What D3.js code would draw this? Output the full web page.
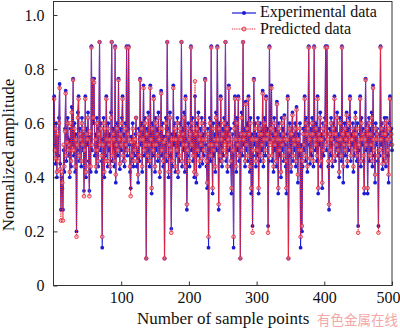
<!DOCTYPE html>
<html><head><meta charset="utf-8">
<script src="https://cdn.jsdelivr.net/npm/d3@7"></script>
<style>html,body{margin:0;padding:0;background:#fff;}svg{display:block;}</style>
</head><body>
<svg id="chart" width="400" height="329"></svg>
<script>
const experimental = [
0.70,0.52,0.45,0.60,0.40,0.55,0.48,0.62,0.745,0.45,0.28,0.40,0.36,0.28,0.50,0.42,0.58,0.72,0.46,0.55,
0.62,0.48,0.54,0.40,0.58,0.44,0.66,0.52,0.765,0.48,0.60,0.42,0.56,0.20,0.50,0.64,0.70,0.46,0.58,0.52,
0.44,0.62,0.50,0.56,0.35,0.48,0.70,0.40,0.58,0.52,0.64,0.46,0.35,0.55,0.42,0.885,0.50,0.765,0.60,0.765,
0.48,0.56,0.42,0.62,0.52,0.44,0.58,0.90,0.50,0.60,0.46,0.14,0.54,0.62,0.40,0.56,0.48,0.70,0.52,0.44,
0.60,0.50,0.56,0.42,0.64,0.90,0.46,0.58,0.52,0.44,0.885,0.38,0.54,0.60,0.48,0.765,0.52,0.43,0.58,0.50,
0.62,0.70,0.46,0.56,0.44,0.60,0.50,0.885,0.48,0.58,0.885,0.52,0.42,0.36,0.55,0.46,0.60,0.44,0.52,0.48,
0.56,0.62,0.44,0.50,0.38,0.58,0.46,0.765,0.52,0.60,0.42,0.56,0.74,0.48,0.62,0.54,0.10,0.58,0.46,0.64,
0.50,0.44,0.74,0.56,0.34,0.60,0.48,0.70,0.54,0.42,0.62,0.50,0.58,0.46,0.64,0.52,0.40,0.56,0.72,0.48,
0.60,0.44,0.55,0.10,0.52,0.62,0.46,0.90,0.58,0.40,0.54,0.64,0.48,0.21,0.56,0.44,0.74,0.52,0.60,0.42,
0.56,0.48,0.62,0.40,0.54,0.46,0.60,0.52,0.90,0.44,0.58,0.50,0.64,0.42,0.70,0.54,0.28,0.48,0.60,0.52,
0.44,0.58,0.885,0.50,0.62,0.46,0.56,0.40,0.70,0.54,0.38,0.60,0.48,0.64,0.52,0.44,0.58,0.50,0.62,0.45,
0.56,0.48,0.60,0.765,0.52,0.44,0.36,0.58,0.14,0.50,0.62,0.46,0.885,0.54,0.34,0.60,0.48,0.56,0.42,0.64,
0.50,0.885,0.56,0.28,0.60,0.46,0.70,0.52,0.44,0.58,0.48,0.62,0.54,0.90,0.46,0.60,0.42,0.56,0.74,0.50,
0.58,0.44,0.34,0.56,0.48,0.14,0.60,0.70,0.52,0.42,0.62,0.50,0.70,0.46,0.56,0.10,0.54,0.64,0.48,0.90,
0.52,0.58,0.44,0.68,0.50,0.60,0.46,0.70,0.54,0.42,0.62,0.34,0.56,0.22,0.48,0.765,0.52,0.60,0.44,0.56,
0.48,0.62,0.34,0.54,0.60,0.46,0.58,0.50,0.72,0.44,0.56,0.62,0.48,0.70,0.52,0.58,0.22,0.46,0.885,0.54,
0.60,0.74,0.46,0.56,0.42,0.62,0.50,0.58,0.44,0.68,0.52,0.34,0.60,0.48,0.56,0.40,0.62,0.50,0.58,0.46,
0.63,0.52,0.44,0.34,0.56,0.70,0.10,0.48,0.60,0.54,0.42,0.58,0.64,0.46,0.56,0.50,0.60,0.44,0.66,0.52,
0.38,0.56,0.48,0.60,0.14,0.52,0.20,0.44,0.58,0.50,0.70,0.46,0.62,0.54,0.42,0.60,0.885,0.52,0.45,0.58,
0.48,0.62,0.54,0.44,0.885,0.56,0.50,0.60,0.46,0.70,0.34,0.58,0.52,0.64,0.44,0.56,0.36,0.60,0.48,0.54,
0.62,0.885,0.50,0.885,0.56,0.44,0.28,0.58,0.48,0.62,0.52,0.44,0.60,0.54,0.70,0.46,0.58,0.50,0.64,0.48,
0.56,0.40,0.62,0.52,0.46,0.885,0.58,0.38,0.54,0.60,0.48,0.56,0.64,0.44,0.58,0.50,0.62,0.70,0.46,0.56,
0.52,0.60,0.42,0.58,0.48,0.64,0.54,0.46,0.60,0.22,0.50,0.56,0.70,0.44,0.62,0.52,0.58,0.46,0.34,0.56,
0.765,0.50,0.60,0.34,0.54,0.62,0.46,0.58,0.50,0.64,0.44,0.74,0.56,0.48,0.38,0.60,0.52,0.58,0.46,0.22,
0.56,0.48,0.885,0.52,0.60,0.43,0.58,0.46,0.62,0.54,0.44,0.62,0.56,0.48,0.38,0.60,0.70,0.52,0.58,0.50
];
const predicted = [
0.69,0.50,0.47,0.58,0.42,0.56,0.46,0.60,0.73,0.43,0.24,0.42,0.38,0.24,0.52,0.44,0.57,0.71,0.48,0.53,
0.60,0.50,0.52,0.42,0.60,0.46,0.64,0.50,0.76,0.50,0.58,0.44,0.54,0.18,0.52,0.62,0.69,0.48,0.56,0.54,
0.46,0.60,0.52,0.58,0.33,0.50,0.69,0.42,0.56,0.54,0.62,0.44,0.33,0.57,0.44,0.88,0.52,0.76,0.62,0.75,
0.50,0.54,0.44,0.60,0.50,0.46,0.56,0.90,0.52,0.58,0.48,0.18,0.52,0.60,0.42,0.58,0.46,0.69,0.54,0.46,
0.58,0.52,0.54,0.44,0.62,0.90,0.48,0.56,0.54,0.46,0.88,0.41,0.52,0.58,0.50,0.76,0.54,0.45,0.56,0.52,
0.60,0.69,0.48,0.54,0.46,0.58,0.52,0.88,0.50,0.56,0.88,0.54,0.44,0.33,0.53,0.48,0.58,0.46,0.54,0.50,
0.54,0.62,0.46,0.52,0.41,0.56,0.48,0.76,0.54,0.58,0.44,0.54,0.73,0.50,0.60,0.52,0.10,0.56,0.48,0.62,
0.52,0.46,0.73,0.54,0.36,0.58,0.50,0.69,0.52,0.44,0.60,0.52,0.56,0.48,0.62,0.54,0.42,0.58,0.71,0.50,
0.58,0.46,0.53,0.10,0.54,0.60,0.48,0.90,0.56,0.42,0.52,0.62,0.50,0.195,0.54,0.46,0.73,0.54,0.58,0.44,
0.54,0.50,0.60,0.42,0.56,0.48,0.58,0.54,0.90,0.46,0.56,0.52,0.62,0.44,0.69,0.52,0.30,0.50,0.58,0.54,
0.46,0.56,0.88,0.52,0.60,0.48,0.58,0.42,0.755,0.56,0.41,0.58,0.50,0.62,0.54,0.46,0.56,0.52,0.60,0.47,
0.54,0.50,0.58,0.76,0.54,0.46,0.38,0.56,0.18,0.52,0.60,0.48,0.88,0.52,0.36,0.58,0.50,0.54,0.44,0.62,
0.52,0.88,0.54,0.30,0.58,0.48,0.69,0.54,0.46,0.56,0.50,0.60,0.52,0.90,0.48,0.58,0.44,0.54,0.73,0.52,
0.56,0.46,0.36,0.54,0.50,0.18,0.58,0.69,0.54,0.44,0.60,0.52,0.69,0.48,0.54,0.10,0.56,0.62,0.50,0.90,
0.54,0.56,0.46,0.67,0.52,0.58,0.48,0.69,0.56,0.44,0.60,0.36,0.54,0.195,0.50,0.76,0.54,0.58,0.46,0.54,
0.50,0.60,0.36,0.56,0.58,0.48,0.56,0.52,0.71,0.46,0.54,0.60,0.50,0.69,0.54,0.56,0.195,0.48,0.88,0.52,
0.58,0.73,0.48,0.54,0.44,0.60,0.52,0.56,0.46,0.67,0.54,0.36,0.58,0.50,0.54,0.42,0.60,0.52,0.56,0.48,
0.62,0.54,0.46,0.36,0.54,0.69,0.10,0.50,0.58,0.56,0.44,0.56,0.63,0.48,0.54,0.52,0.58,0.46,0.65,0.54,
0.41,0.54,0.50,0.58,0.18,0.50,0.22,0.46,0.56,0.52,0.69,0.48,0.60,0.56,0.44,0.58,0.88,0.54,0.47,0.56,
0.50,0.60,0.56,0.46,0.88,0.54,0.52,0.58,0.48,0.69,0.36,0.56,0.54,0.62,0.46,0.54,0.38,0.58,0.50,0.56,
0.60,0.88,0.52,0.88,0.54,0.46,0.30,0.56,0.50,0.60,0.54,0.46,0.58,0.56,0.69,0.48,0.56,0.52,0.62,0.50,
0.54,0.42,0.60,0.54,0.48,0.88,0.56,0.44,0.52,0.58,0.50,0.54,0.63,0.46,0.56,0.52,0.60,0.69,0.48,0.54,
0.54,0.58,0.44,0.56,0.50,0.62,0.56,0.48,0.58,0.195,0.52,0.54,0.69,0.46,0.60,0.54,0.56,0.48,0.36,0.54,
0.76,0.52,0.58,0.36,0.56,0.60,0.48,0.56,0.52,0.62,0.46,0.73,0.54,0.50,0.41,0.58,0.54,0.56,0.48,0.195,
0.54,0.50,0.88,0.54,0.58,0.45,0.56,0.48,0.60,0.56,0.46,0.61,0.54,0.50,0.41,0.58,0.69,0.54,0.56,0.52
];
const xTicks = [100, 200, 300, 400, 500];
const yTicks = [0, 0.2, 0.4, 0.6, 0.8, 1.0];
const seriesNames = ["Experimental data", "Predicted data"];
const xTitle = "Number of sample points";
const yTitle = "Normalized amplitude";
const watermark = "有色金属在线";

const svg = d3.select("#chart");
const m = {l: 53.5, r: 392, t: 1.5, b: 285.5};
const x = d3.scaleLinear().domain([0, 500]).range([m.l, m.r]);
const y = d3.scaleLinear().domain([0, 1.05]).range([m.b, m.t]);
const font = "'Liberation Serif', 'Times New Roman', serif";
const blue = "#1c1cd6", red = "#e8283a";

const pts = (arr) => arr.map((v, i) => [i + 1, v]);
const line = d3.line().x(d => x(d[0])).y(d => y(d[1]));

const plot = svg.append("g");
plot.append("path").datum(pts(experimental)).attr("d", line)
  .attr("fill", "none").attr("stroke", blue).attr("stroke-width", 1.1);
plot.append("g").selectAll("circle").data(pts(experimental)).join("circle")
  .attr("cx", d => x(d[0])).attr("cy", d => y(d[1])).attr("r", 1.9).attr("fill", blue);
plot.append("path").datum(pts(predicted)).attr("d", line)
  .attr("fill", "none").attr("stroke", red).attr("stroke-width", 1.1).attr("stroke-dasharray", "1.2,1");
plot.append("g").selectAll("circle").data(pts(predicted)).join("circle")
  .attr("cx", d => x(d[0])).attr("cy", d => y(d[1])).attr("r", 1.8)
  .attr("fill", "#f4b0b0").attr("fill-opacity", 0.5).attr("stroke", red).attr("stroke-width", 0.9);

// frame
svg.append("rect").attr("x", m.l).attr("y", m.t).attr("width", m.r - m.l).attr("height", m.b - m.t)
  .attr("fill", "none").attr("stroke", "#333").attr("stroke-width", 1);

const xAxis = svg.append("g").attr("transform", `translate(0,${m.b})`)
  .call(d3.axisBottom(x).tickValues(xTicks).tickSize(-4).tickPadding(10).tickFormat(d3.format("d")));
const yAxis = svg.append("g").attr("transform", `translate(${m.l},0)`)
  .call(d3.axisLeft(y).tickValues(yTicks).tickSize(-4).tickPadding(9)
    .tickFormat(d => d === 0 ? "0" : d3.format(".1f")(d)));
[xAxis, yAxis].forEach(a => {
  a.select(".domain").remove();
  a.selectAll("line").attr("stroke", "#333");
  a.selectAll("text").attr("font-family", font).attr("font-size", 16).attr("fill", "#111");
});
xAxis.selectAll("text").attr("dy", "0.71em").attr("y", 6.5);
xAxis.selectAll("text").filter(d => d === 500).attr("text-anchor", "end").attr("x", 400 - m.r);

svg.append("text").attr("x", 137).attr("y", 324).attr("font-family", font).attr("font-size", 17)
  .attr("fill", "#111").text(xTitle);
svg.append("text").attr("transform", `translate(14,155) rotate(-90)`)
  .attr("text-anchor", "middle").attr("font-family", font).attr("font-size", 17)
  .attr("fill", "#111").text(yTitle);
svg.append("text").attr("x", 398).attr("y", 325).attr("text-anchor", "end")
  .attr("font-family", "'Noto Sans CJK SC', sans-serif").attr("font-size", 13.5)
  .attr("fill", "#f2a8a8").text(watermark);

// legend
const lg = svg.append("g");
lg.append("rect").attr("x", 228).attr("y", 3).attr("width", 162).attr("height", 36).attr("fill", "#fff");
lg.append("line").attr("x1", 232).attr("x2", 256).attr("y1", 13).attr("y2", 13).attr("stroke", blue).attr("stroke-width", 1.2);
lg.append("circle").attr("cx", 244).attr("cy", 13).attr("r", 2).attr("fill", blue);
lg.append("line").attr("x1", 232).attr("x2", 256).attr("y1", 29).attr("y2", 29).attr("stroke", red).attr("stroke-width", 1.1).attr("stroke-dasharray", "1.2,1");
lg.append("circle").attr("cx", 244).attr("cy", 29).attr("r", 2).attr("fill", "#f4b0b0").attr("stroke", red).attr("stroke-width", 0.9);
lg.selectAll("text.lt").data(seriesNames).join("text").attr("class", "lt")
  .attr("x", 260).attr("y", (d, i) => 17 + i * 16.5)
  .attr("font-family", font).attr("font-size", 16).attr("fill", "#111").text(d => d);
</script>
</body></html>
